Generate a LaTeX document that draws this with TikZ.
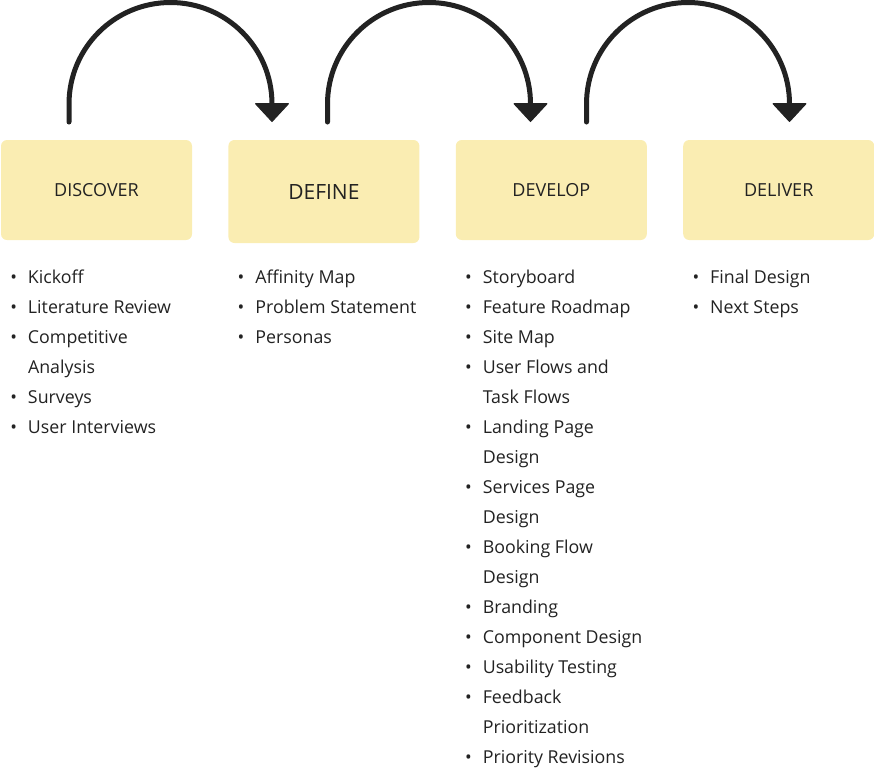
\documentclass[tikz,border=0pt]{standalone}
\usepackage{fontspec}
\setmainfont{Open Sans}
\usetikzlibrary{positioning, arrows.meta}
\definecolor{phasefill}{HTML}{FAEDB2}
\definecolor{ink}{HTML}{222222}
\newcommand{\itm}{\strut\makebox[0pt][r]{\textbullet\hspace{11pt}}}

\begin{document}
\begin{tikzpicture}[x=1pt, y=1pt,
    phase/.style={rectangle, rounded corners=6pt, fill=phasefill, text=ink,
      minimum width=191pt, minimum height=100pt, inner sep=0pt,
      font=\fontsize{18}{21}\selectfont},
    items/.style={align=left, inner sep=0pt, text=ink,
      font=\fontsize{17.8}{30}\selectfont},
    flow/.style={draw=ink, line width=5pt, line cap=round, line join=round,
      -{Triangle[length=19pt, width=35pt, line width=1pt, round]}}]
   \useasboundingbox (0,0) rectangle (874,-772);

   % phases
   \node[phase] (discover) at (96.5,-190) {DISCOVER};
   \node[phase, minimum height=103pt, font=\fontsize{21}{24}\selectfont,
     below right=0pt and 36pt of discover.north east] (define) {DEFINE};
   \node[phase, below right=0pt and 36pt of define.north east] (develop) {DEVELOP};
   \node[phase, below right=0pt and 36pt of develop.north east] (deliver) {DELIVER};

   % arrows between phases
   \coordinate (s1) at (69,-122);
   \coordinate (e1) at (272,-122);
   \coordinate (s2) at (327.5,-122);
   \coordinate (e2) at (530.5,-122);
   \coordinate (s3) at (586.5,-122);
   \coordinate (e3) at (789.5,-122);

   \draw[flow] (s1) -- ++(0,18) arc[start angle=180, end angle=0, radius=101.5] -- (e1);
   \draw[flow] (s2) -- ++(0,18) arc[start angle=180, end angle=0, radius=101.5] -- (e2);
   \draw[flow] (s3) -- ++(0,18) arc[start angle=180, end angle=0, radius=101.5] -- (e3);

   % activities
   \node[items, below right=22pt and 27pt of discover.south west] (discoverlist)
     {\itm Kickoff\\ \itm Literature Review\\ \itm Competitive\\ \strut Analysis\\
      \itm Surveys\\ \itm User Interviews};
   \node[items, below right=19pt and 27pt of define.south west] (definelist)
     {\itm Affinity Map\\ \itm Problem Statement\\ \itm Personas};
   \node[items, below right=22pt and 27pt of develop.south west] (developlist)
     {\itm Storyboard\\ \itm Feature Roadmap\\ \itm Site Map\\ \itm User Flows and\\
      \strut Task Flows\\ \itm Landing Page\\ \strut Design\\ \itm Services Page\\
      \strut Design\\ \itm Booking Flow\\ \strut Design\\ \itm Branding\\
      \itm Component Design\\ \itm Usability Testing\\ \itm Feedback\\
      \strut Prioritization\\ \itm Priority Revisions};
   \node[items, below right=22pt and 27pt of deliver.south west] (deliverlist)
     {\itm Final Design\\ \itm Next Steps};
\end{tikzpicture}
\end{document}
